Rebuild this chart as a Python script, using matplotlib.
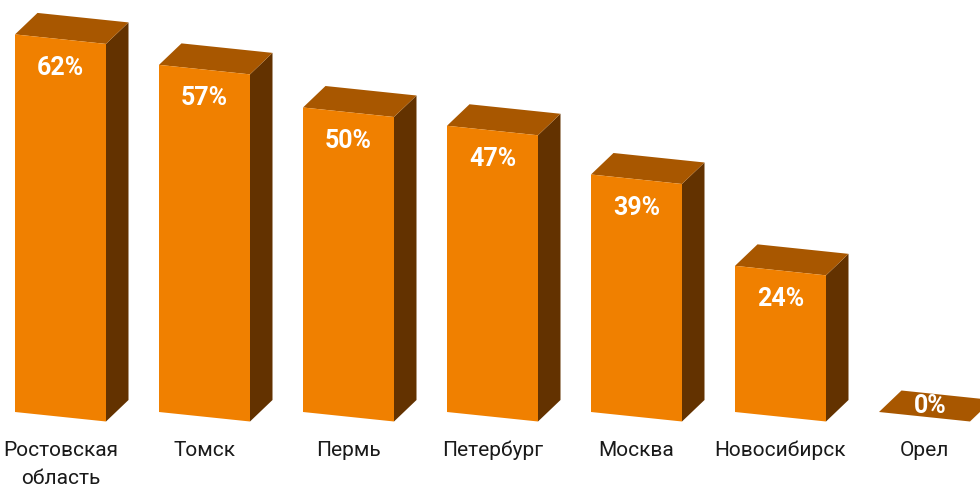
import matplotlib
matplotlib.use("Agg")
import matplotlib.pyplot as plt
from matplotlib.patches import Polygon

categories = ["Ростовская\nобласть", "Томск", "Пермь", "Петербург", "Москва", "Новосибирск", "Орел"]
values = [62, 57, 50, 47, 39, 24, 0]
value_labels = ["62%", "57%", "50%", "47%", "39%", "24%", "0%"]

FRONT = "#F08000"
TOP = "#A85700"
SIDE = "#633200"

W, H = 980, 492
fig = plt.figure(figsize=(W / 100, H / 100), dpi=100)
ax = fig.add_axes([0, 0, 1, 1])

# axes scaled so that one x unit is one category slot and one y unit is one percent
px_per_cat = 144.0
px_per_pct = 6.09
x0_px = 60.5          # centre of first bar
base_px = 80.0        # baseline height from bottom (left edge of a bar)
ax.set_xlim(-x0_px / px_per_cat, (W - x0_px) / px_per_cat)
ax.set_ylim(-base_px / px_per_pct, (H - base_px) / px_per_pct)
ax.axis("off")

half_w = 91.0 / px_per_cat / 2
skew = 9.5 / px_per_pct            # front edges fall slightly to the right
dx = 22.5 / px_per_cat             # depth offset
dy = 21.5 / px_per_pct

font = ["Roboto", "DejaVu Sans"]

for i, (v, lab) in enumerate(zip(values, value_labels)):
    xl, xr = i - half_w, i + half_w
    fl_b, fr_b = 0.0, -skew
    fl_t, fr_t = v, v - skew
    front = [(xl, fl_b), (xr, fr_b), (xr, fr_t), (xl, fl_t)]
    side = [(xr, fr_b), (xr + dx, fr_b + dy), (xr + dx, fr_t + dy), (xr, fr_t)]
    top = [(xl, fl_t), (xr, fr_t), (xr + dx, fr_t + dy), (xl + dx, fl_t + dy)]
    ax.add_patch(Polygon(side, closed=True, facecolor=SIDE, edgecolor="none"))
    ax.add_patch(Polygon(top, closed=True, facecolor=TOP, edgecolor="none"))
    if v > 0:
        ax.add_patch(Polygon(front, closed=True, facecolor=FRONT, edgecolor="none"))
        ax.text(i, v - skew / 2 - 4.7, lab, ha="center", va="center",
                color="white", fontsize=18, fontweight="bold", family=font)
    else:
        ax.text(i + dx / 2 - 0.04, v - skew / 2 + dy / 2, lab, ha="center", va="center",
                color="white", fontsize=18, fontweight="bold", family=font)

for i, cat in enumerate(categories):
    ax.text(i, -4.7, cat, ha="center", va="top", color="#1a1a1a",
            fontsize=15, family=font, linespacing=1.65)

fig.savefig("out.png", dpi=100)
